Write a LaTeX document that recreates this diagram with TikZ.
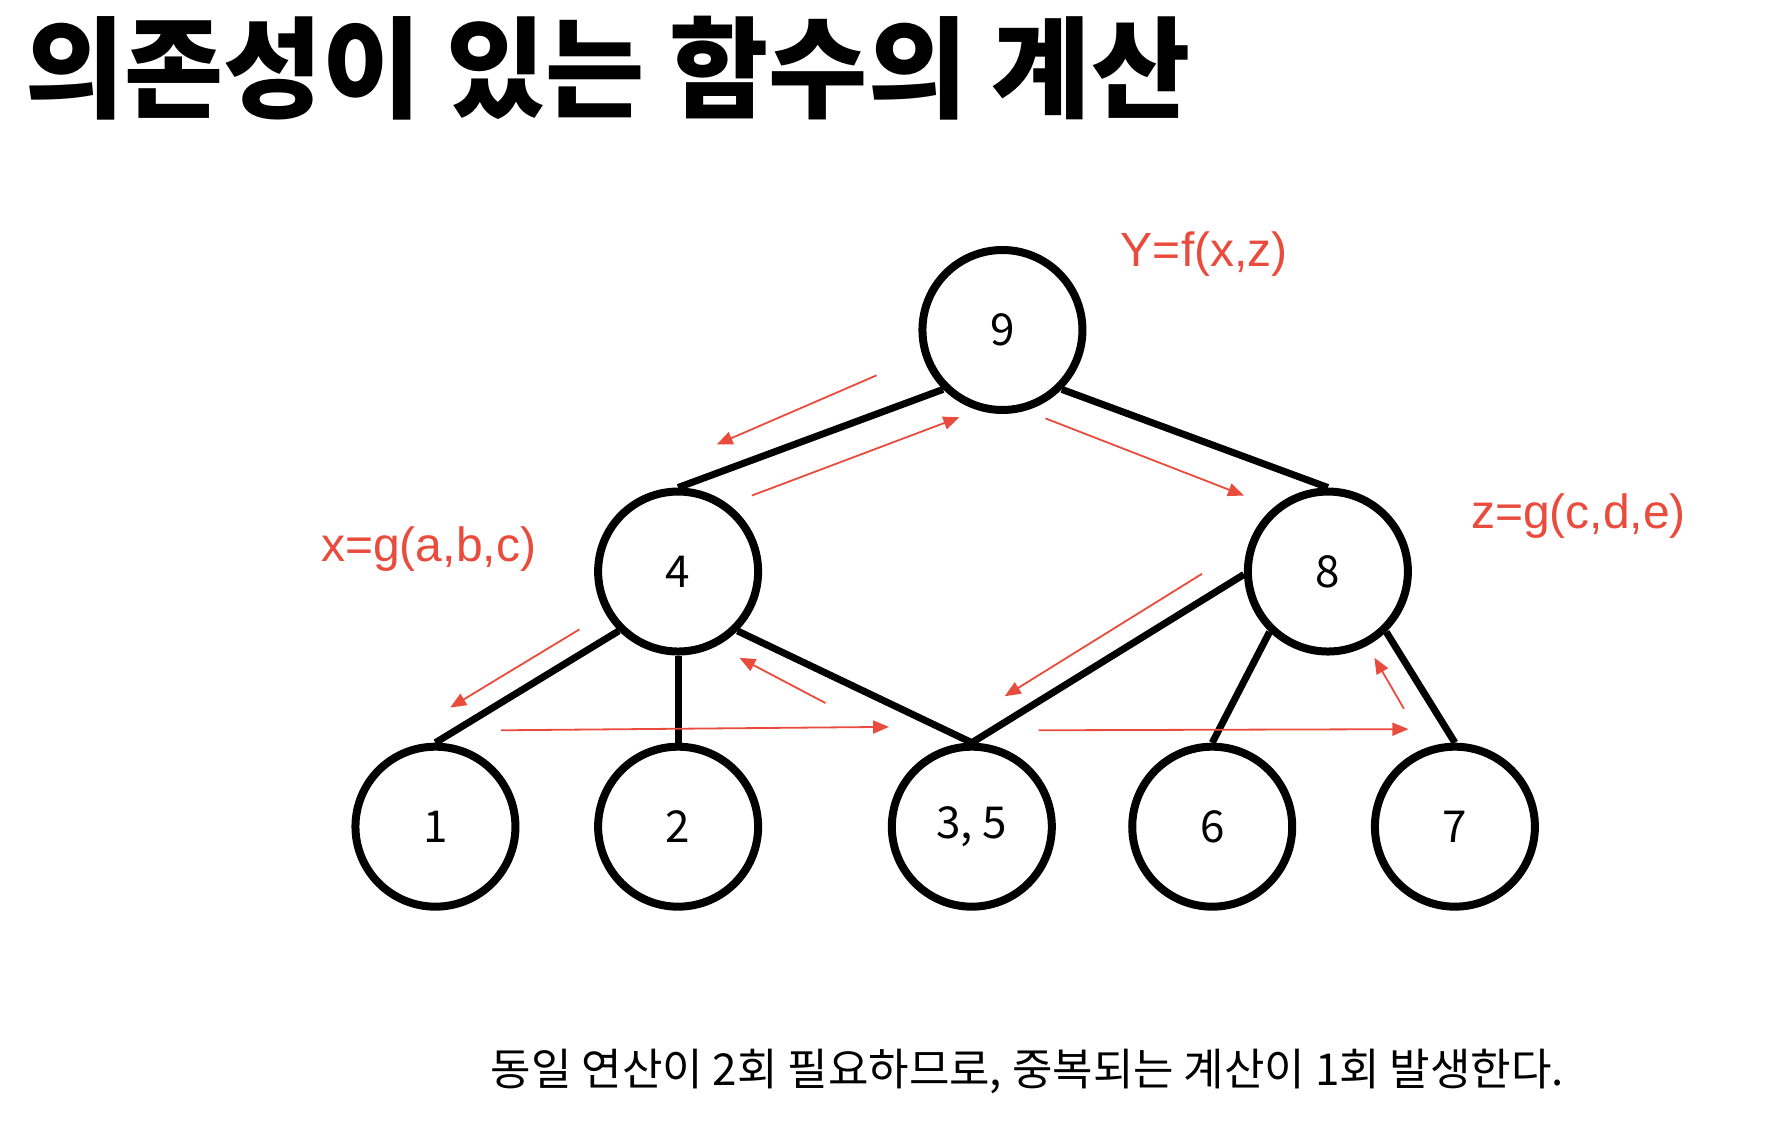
\documentclass[tikz,border=0pt]{standalone}
\usepackage{fontspec}
\setmainfont{Liberation Sans}
\newfontfamily\kr{Noto Sans CJK KR}
\usetikzlibrary{arrows.meta}
\definecolor{redc}{RGB}{233,75,60}
\begin{document}
\begin{tikzpicture}[x=0.567pt,y=-0.567pt,
  vert/.style={circle, draw, line width=4pt, minimum size=80pt, inner sep=0pt,
    font=\kr\fontsize{22}{26}\selectfont},
  edge/.style={line width=3.5pt},
  flow/.style={draw=redc, line width=0.9pt, -{Triangle[length=8pt,width=6.5pt]}},
  lbl/.style={text=redc, inner sep=0pt, font=\fontsize{24}{28}\selectfont}]
\useasboundingbox (0,0) rectangle (1564.4,1010.6);
% title
\node[anchor=west, inner sep=0pt] (title) at (22,60)
  {\scalebox{0.98}[1]{\kr\bfseries\fontsize{55}{60}\selectfont 의존성이 있는 함수의 계산}};
% nodes
\node[vert] (n9) at (884,291) {9};
\node[vert] (n4) at (598,504) {4};
\node[vert] (n8) at (1171,504) {8};
\node[vert] (n1) at (384,729) {1};
\node[vert] (n2) at (598,729) {2};
\node[vert] (n35) at (857,729) {3, 5};
\node[vert] (n6) at (1069,729) {6};
\node[vert] (n7) at (1283,729) {7};
% edges
\draw[edge] (n9.225) -- (n4.north);
\draw[edge] (n9.315) -- (n8.north);
\draw[edge] (n4.225) -- (n1.north);
\draw[edge] (n4.south) -- (n2.north);
\draw[edge] (n4.315) -- (n35.north);
\draw[edge] (n8.182) -- (n35.north);
\draw[edge] (n8.226) -- (n6.north);
\draw[edge] (n8.314) -- (n7.north);
% labels
\node[lbl] (ly) at (1062,224) {Y=f(x,z)};
\node[lbl] (lx) at (378,484) {x=g(a,b,c)};
\node[lbl] (lz) at (1392,455) {z=g(c,d,e)};
% red flow arrows
\coordinate (a1s) at (773,331); \coordinate (a1e) at (632,392);
\coordinate (a2s) at (663,437); \coordinate (a2e) at (846,368);
\coordinate (a3s) at (922,369); \coordinate (a3e) at (1097,437);
\coordinate (a4s) at (1060,506); \coordinate (a4e) at (886,614);
\coordinate (a5s) at (511,555); \coordinate (a5e) at (397,624);
\coordinate (a6s) at (728,620); \coordinate (a6e) at (652,580);
\coordinate (a7s) at (442,644); \coordinate (a7e) at (784,641);
\coordinate (a8s) at (916,644); \coordinate (a8e) at (1242,643);
\coordinate (a9s) at (1238,625); \coordinate (a9e) at (1212,580);
\draw[flow] (a1s) -- (a1e);
\draw[flow] (a2s) -- (a2e);
\draw[flow] (a3s) -- (a3e);
\draw[flow] (a4s) -- (a4e);
\draw[flow] (a5s) -- (a5e);
\draw[flow] (a6s) -- (a6e);
\draw[flow] (a7s) -- (a7e);
\draw[flow] (a8s) -- (a8e);
\draw[flow] (a9s) -- (a9e);
% caption
\node[inner sep=0pt, font=\kr\fontsize{22}{26}\selectfont] (cap) at (906,945)
  {동일 연산이 2회 필요하므로, 중복되는 계산이 1회 발생한다.};
\end{tikzpicture}
\end{document}
